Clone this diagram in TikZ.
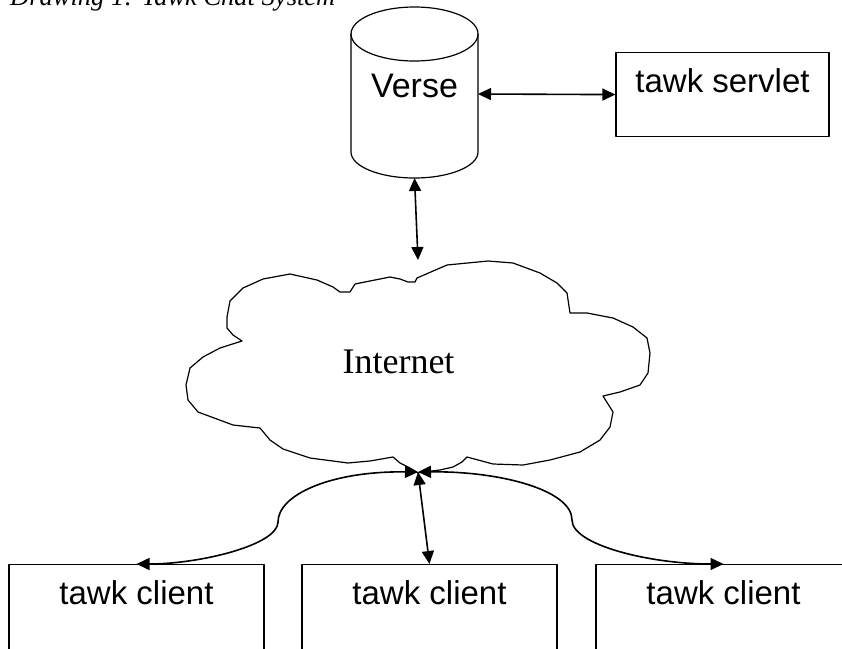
\documentclass[tikz,border=0pt]{standalone}
\usepackage{fontspec}
\setmainfont{Liberation Serif}
\newfontfamily\arialfont{Liberation Sans}
\usetikzlibrary{arrows.meta}
\tikzset{
  unit/.style={draw, line width=1.2pt, anchor=north, text height=24pt, inner ysep=16pt,
    font=\arialfont\fontsize{33}{40}\selectfont},
  link/.style={line width=1.6pt, {Triangle[length=13pt,width=12pt]}-{Triangle[length=13pt,width=12pt]}},
}
\begin{document}
\begin{tikzpicture}[x=1pt, y=-1pt, line join=round, line cap=round]
  \useasboundingbox (0,0) rectangle (842,648);
  \node[anchor=base west, inner sep=0pt, font=\itshape\fontsize{26.5}{30}\selectfont] (caption) at (10,5) {Drawing 1: Tawk Chat System};
  % Verse cylinder
  \draw[line width=1.2pt] (414.5,34) ellipse [x radius=63.5, y radius=27];
  \draw[line width=1.2pt] (351,34) -- (351,152) arc[start angle=180, end angle=0, x radius=63.5, y radius=26] -- (478,34);
  \node[anchor=base, inner sep=0pt, font=\arialfont\fontsize{34}{40}\selectfont] (verse) at (414.5,97) {Verse};
  \coordinate (verse-side) at (478,94);
  \coordinate (verse-base) at (414.5,178);
  \node[unit, minimum width=213pt, text depth=28pt] (servlet) at (722.5,52) {tawk servlet};
  % Internet cloud
  \draw[line width=1.2pt] (417,278) -- (447,265) -- (488,261) -- (513,263) -- (540,273) -- (557,283)
    -- (567,293) -- (570,313) -- (587,313) -- (613,318) -- (633,327) -- (647,338) -- (650,353)
    -- (648,373) -- (640,385) -- (620,392) -- (603,396) -- (613,412) -- (610,427) -- (600,440)
    -- (580,452) -- (550,460) -- (523,465) -- (493,464) -- (467,457) -- (462,462) -- (453,467)
    -- (440,470) -- (423,472) -- (418,473) -- (410,468) -- (400,463) -- (393,457) -- (370,461)
    -- (348,463) -- (310,458) -- (283,449) -- (270,440) -- (260,428) -- (233,425) -- (198,412)
    -- (188,400) -- (186,385) -- (190,368) -- (203,357) -- (220,348) -- (242,341) -- (233,335)
    -- (227,328) -- (227,317) -- (230,301) -- (243,288) -- (263,279) -- (290,274) -- (317,280)
    -- (333,287) -- (340,292) -- (350,292) -- (355,284) -- (370,281) -- (390,277) -- (400,279)
    -- (408,282) -- (415,282) -- cycle;
  \node[anchor=base, inner sep=0pt, font=\fontsize{36}{40}\selectfont] (inet) at (398.5,373) {Internet};
  \coordinate (net-top) at (418,260);
  \coordinate (hub) at (418,472);
  % clients
  \node[unit, minimum width=255pt, text depth=48pt] (client1) at (136.5,564) {tawk client};
  \node[unit, minimum width=255pt, text depth=48pt] (client2) at (429.5,564) {tawk client};
  \node[unit, minimum width=255pt, text depth=48pt] (client3) at (723.5,564) {tawk client};
  \draw[link] (verse-side) -- (servlet.west);
  \draw[link] (verse-base) -- (net-top);
  \draw[link] (hub) .. controls (330,471) and (278,495) .. (278,522) .. controls (278,545) and (200,564) .. (client1.north);
  \draw[link] (hub) -- (client2.north);
  \draw[link] (hub) .. controls (500,471) and (572,490) .. (572,520) .. controls (572,545) and (650,564) .. (client3.north);
\end{tikzpicture}
\end{document}
